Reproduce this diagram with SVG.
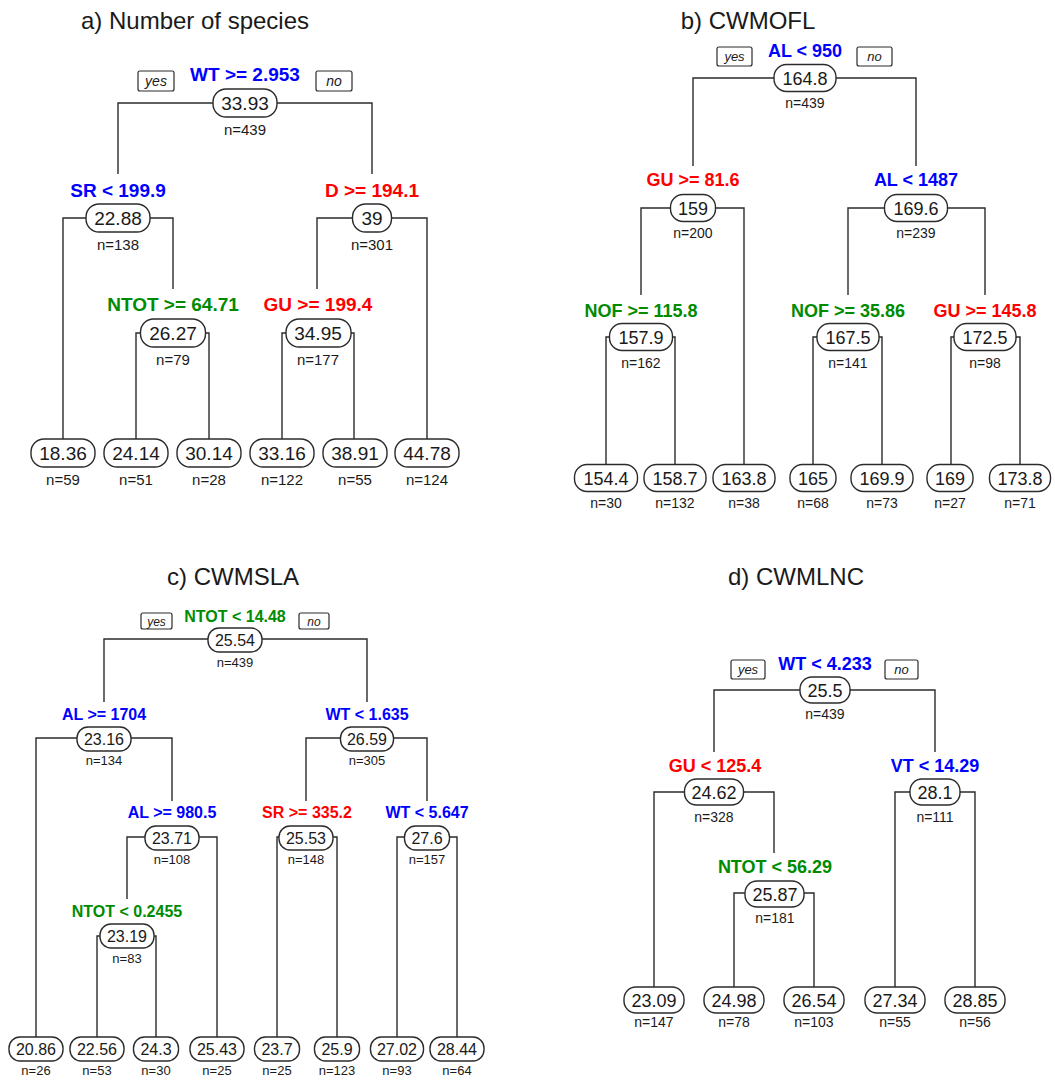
<svg xmlns="http://www.w3.org/2000/svg" width="1055" height="1080" viewBox="0 0 1055 1080">
<style>
text{font-family:"Liberation Sans",Arial,Helvetica,sans-serif;text-anchor:middle;fill:#1a1a1a}
.title{font-size:24px}
.lbl{font-weight:bold}
.blue{fill:#0000ff}.red{fill:#ff0000}.green{fill:#008b00}
.box{fill:#fff;stroke:#2b2b2b;stroke-width:1.4}
.yn{fill:#fff;stroke:#2b2b2b;stroke-width:1.2}
.ynt{font-style:italic}
.con{fill:none;stroke:#2b2b2b;stroke-width:1.4}
#pa .lbl,#pa .val{font-size:19px}#pa .n{font-size:15px}#pa .ynt{font-size:14px}
#pb .lbl,#pb .val{font-size:18px}#pb .n{font-size:14px}#pb .ynt{font-size:13px}
#pc .lbl,#pc .val{font-size:16px}#pc .n{font-size:13px}#pc .ynt{font-size:12px}
#pd .lbl,#pd .val{font-size:18px}#pd .n{font-size:14px}#pd .ynt{font-size:13px}
</style>
<rect width="1055" height="1080" fill="#fff"/>

<!-- Panel a -->
<g id="pa">
<text class="title" x="195" y="29">a) Number of species</text>
<g id="a-connectors" class="con">
<path d="M118,174V103H372V174"/>
<path d="M63,439V218H173V289"/>
<path d="M317,289V218H427V439"/>
<path d="M136,439V333H209V439"/>
<path d="M282,439V333H354V439"/>
</g>
<g id="a-root">
<rect class="yn" x="138" y="71" width="36" height="20" rx="2"/><text class="ynt" x="156" y="86">yes</text>
<rect class="yn" x="316" y="71" width="36" height="20" rx="2"/><text class="ynt" x="334" y="86">no</text>
<text class="lbl blue" x="245" y="81">WT &gt;= 2.953</text>
<rect class="box" x="213" y="89" width="64" height="28" rx="13"/><text class="val" x="245" y="110">33.93</text><text class="n" x="245" y="135">n=439</text>
</g>
<g id="a-n2"><text class="lbl blue" x="118" y="197">SR &lt; 199.9</text><rect class="box" x="86" y="204" width="64" height="28" rx="13"/><text class="val" x="118" y="225">22.88</text><text class="n" x="118" y="250">n=138</text></g>
<g id="a-n3"><text class="lbl red" x="372" y="197">D &gt;= 194.1</text><rect class="box" x="352.5" y="204" width="39" height="28" rx="13"/><text class="val" x="372" y="225">39</text><text class="n" x="372" y="250">n=301</text></g>
<g id="a-n4"><text class="lbl green" x="173" y="311">NTOT &gt;= 64.71</text><rect class="box" x="140.5" y="319" width="65" height="28" rx="13"/><text class="val" x="173" y="340">26.27</text><text class="n" x="173" y="365">n=79</text></g>
<g id="a-n5"><text class="lbl red" x="318" y="311">GU &gt;= 199.4</text><rect class="box" x="286" y="319" width="65" height="28" rx="13"/><text class="val" x="318" y="340">34.95</text><text class="n" x="318" y="365">n=177</text></g>
<g id="a-l1"><rect class="box" x="31" y="439" width="64" height="28" rx="13"/><text class="val" x="63" y="460">18.36</text><text class="n" x="63" y="485">n=59</text></g>
<g id="a-l2"><rect class="box" x="104" y="439" width="64" height="28" rx="13"/><text class="val" x="136" y="460">24.14</text><text class="n" x="136" y="485">n=51</text></g>
<g id="a-l3"><rect class="box" x="177" y="439" width="64" height="28" rx="13"/><text class="val" x="209" y="460">30.14</text><text class="n" x="209" y="485">n=28</text></g>
<g id="a-l4"><rect class="box" x="250" y="439" width="64" height="28" rx="13"/><text class="val" x="282" y="460">33.16</text><text class="n" x="282" y="485">n=122</text></g>
<g id="a-l5"><rect class="box" x="323" y="439" width="64" height="28" rx="13"/><text class="val" x="355" y="460">38.91</text><text class="n" x="355" y="485">n=55</text></g>
<g id="a-l6"><rect class="box" x="395" y="439" width="64" height="28" rx="13"/><text class="val" x="427" y="460">44.78</text><text class="n" x="427" y="485">n=124</text></g>
</g>

<!-- Panel b -->
<g id="pb">
<text class="title" x="748" y="29">b) CWMOFL</text>
<g id="b-connectors" class="con">
<path d="M693,166V78H916V166"/>
<path d="M641,295V208H744V465"/>
<path d="M848,295V208H985V295"/>
<path d="M606,465V337H675V465"/>
<path d="M813,465V337H882V465"/>
<path d="M951,465V337H1020V465"/>
</g>
<g id="b-root">
<rect class="yn" x="717" y="47" width="35" height="19" rx="2"/><text class="ynt" x="734.5" y="61">yes</text>
<rect class="yn" x="857" y="47" width="35" height="19" rx="2"/><text class="ynt" x="874.5" y="61">no</text>
<text class="lbl blue" x="805" y="57">AL &lt; 950</text>
<rect class="box" x="774" y="64.5" width="62" height="27" rx="12.5"/><text class="val" x="805" y="84.5">164.8</text><text class="n" x="805" y="108">n=439</text>
</g>
<g id="b-n2"><text class="lbl red" x="693" y="186">GU &gt;= 81.6</text><rect class="box" x="670.5" y="194.5" width="45" height="27" rx="12.5"/><text class="val" x="693" y="214.5">159</text><text class="n" x="693" y="238">n=200</text></g>
<g id="b-n3"><text class="lbl blue" x="916" y="186">AL &lt; 1487</text><rect class="box" x="884.5" y="194.5" width="63" height="27" rx="12.5"/><text class="val" x="916" y="214.5">169.6</text><text class="n" x="916" y="238">n=239</text></g>
<g id="b-n4"><text class="lbl green" x="641" y="317">NOF &gt;= 115.8</text><rect class="box" x="609.5" y="323.5" width="63" height="27" rx="12.5"/><text class="val" x="641" y="343.5">157.9</text><text class="n" x="641" y="368">n=162</text></g>
<g id="b-n5"><text class="lbl green" x="848" y="317">NOF &gt;= 35.86</text><rect class="box" x="817" y="323.5" width="62" height="27" rx="12.5"/><text class="val" x="848" y="343.5">167.5</text><text class="n" x="848" y="368">n=141</text></g>
<g id="b-n6"><text class="lbl red" x="985" y="317">GU &gt;= 145.8</text><rect class="box" x="954" y="323.5" width="62" height="27" rx="12.5"/><text class="val" x="985" y="343.5">172.5</text><text class="n" x="985" y="368">n=98</text></g>
<g id="b-l1"><rect class="box" x="574.5" y="464.5" width="63" height="27" rx="12.5"/><text class="val" x="606" y="484.5">154.4</text><text class="n" x="606" y="508">n=30</text></g>
<g id="b-l2"><rect class="box" x="644" y="464.5" width="62" height="27" rx="12.5"/><text class="val" x="675" y="484.5">158.7</text><text class="n" x="675" y="508">n=132</text></g>
<g id="b-l3"><rect class="box" x="713" y="464.5" width="62" height="27" rx="12.5"/><text class="val" x="744" y="484.5">163.8</text><text class="n" x="744" y="508">n=38</text></g>
<g id="b-l4"><rect class="box" x="790" y="464.5" width="46" height="27" rx="12.5"/><text class="val" x="813" y="484.5">165</text><text class="n" x="813" y="508">n=68</text></g>
<g id="b-l5"><rect class="box" x="851" y="464.5" width="62" height="27" rx="12.5"/><text class="val" x="882" y="484.5">169.9</text><text class="n" x="882" y="508">n=73</text></g>
<g id="b-l6"><rect class="box" x="927" y="464.5" width="46" height="27" rx="12.5"/><text class="val" x="950" y="484.5">169</text><text class="n" x="950" y="508">n=27</text></g>
<g id="b-l7"><rect class="box" x="989.5" y="464.5" width="61" height="27" rx="12.5"/><text class="val" x="1020" y="484.5">173.8</text><text class="n" x="1020" y="508">n=71</text></g>
</g>

<!-- Panel c -->
<g id="pc">
<text class="title" x="233" y="585">c) CWMSLA</text>
<g id="c-connectors" class="con">
<path d="M104,702V639H367V702"/>
<path d="M36,1037V738H172V801"/>
<path d="M306,801V738H427V801"/>
<path d="M127,899V837H217V1037"/>
<path d="M277,1037V837H337V1037"/>
<path d="M397,1037V837H457V1037"/>
<path d="M97,1037V936H156V1037"/>
</g>
<g id="c-root">
<rect class="yn" x="141" y="613" width="31" height="16" rx="2"/><text class="ynt" x="156.5" y="625.5">yes</text>
<rect class="yn" x="299" y="613" width="30" height="16" rx="2"/><text class="ynt" x="314" y="625.5">no</text>
<text class="lbl green" x="235" y="622">NTOT &lt; 14.48</text>
<rect class="box" x="208" y="628" width="54" height="24" rx="11"/><text class="val" x="235" y="645.5">25.54</text><text class="n" x="235" y="667">n=439</text>
</g>
<g id="c-n2"><text class="lbl blue" x="104" y="720">AL &gt;= 1704</text><rect class="box" x="77" y="727" width="54" height="24" rx="11"/><text class="val" x="104" y="744.5">23.16</text><text class="n" x="104" y="765">n=134</text></g>
<g id="c-n3"><text class="lbl blue" x="367" y="720">WT &lt; 1.635</text><rect class="box" x="340.5" y="727" width="53" height="24" rx="11"/><text class="val" x="367" y="744.5">26.59</text><text class="n" x="367" y="765">n=305</text></g>
<g id="c-n4"><text class="lbl blue" x="172" y="818">AL &gt;= 980.5</text><rect class="box" x="145" y="826" width="54" height="24" rx="11"/><text class="val" x="172" y="843.5">23.71</text><text class="n" x="172" y="864">n=108</text></g>
<g id="c-n5"><text class="lbl red" x="307" y="818">SR &gt;= 335.2</text><rect class="box" x="279" y="826" width="54" height="24" rx="11"/><text class="val" x="306" y="843.5">25.53</text><text class="n" x="306" y="864">n=148</text></g>
<g id="c-n6"><text class="lbl blue" x="427" y="818">WT &lt; 5.647</text><rect class="box" x="404.5" y="826" width="45" height="24" rx="11"/><text class="val" x="427" y="843.5">27.6</text><text class="n" x="427" y="864">n=157</text></g>
<g id="c-n7"><text class="lbl green" x="127" y="917">NTOT &lt; 0.2455</text><rect class="box" x="100" y="924" width="54" height="24" rx="11"/><text class="val" x="127" y="941.5">23.19</text><text class="n" x="127" y="963">n=83</text></g>
<g id="c-l1"><rect class="box" x="9" y="1037" width="54" height="24" rx="11"/><text class="val" x="36" y="1054.5">20.86</text><text class="n" x="36" y="1075">n=26</text></g>
<g id="c-l2"><rect class="box" x="70" y="1037" width="54" height="24" rx="11"/><text class="val" x="97" y="1054.5">22.56</text><text class="n" x="97" y="1075">n=53</text></g>
<g id="c-l3"><rect class="box" x="133.5" y="1037" width="45" height="24" rx="11"/><text class="val" x="156" y="1054.5">24.3</text><text class="n" x="156" y="1075">n=30</text></g>
<g id="c-l4"><rect class="box" x="190" y="1037" width="54" height="24" rx="11"/><text class="val" x="217" y="1054.5">25.43</text><text class="n" x="217" y="1075">n=25</text></g>
<g id="c-l5"><rect class="box" x="254.5" y="1037" width="45" height="24" rx="11"/><text class="val" x="277" y="1054.5">23.7</text><text class="n" x="277" y="1075">n=25</text></g>
<g id="c-l6"><rect class="box" x="314.5" y="1037" width="45" height="24" rx="11"/><text class="val" x="337" y="1054.5">25.9</text><text class="n" x="337" y="1075">n=123</text></g>
<g id="c-l7"><rect class="box" x="370.5" y="1037" width="53" height="24" rx="11"/><text class="val" x="397" y="1054.5">27.02</text><text class="n" x="397" y="1075">n=93</text></g>
<g id="c-l8"><rect class="box" x="430" y="1037" width="54" height="24" rx="11"/><text class="val" x="457" y="1054.5">28.44</text><text class="n" x="457" y="1075">n=64</text></g>
</g>

<!-- Panel d -->
<g id="pd">
<text class="title" x="796" y="585">d) CWMLNC</text>
<g id="d-connectors" class="con">
<path d="M714,752V690H935V752"/>
<path d="M654,987V792H774V853"/>
<path d="M895,987V792H975V987"/>
<path d="M734,987V893H814V987"/>
</g>
<g id="d-root">
<rect class="yn" x="731" y="660" width="34" height="19" rx="2"/><text class="ynt" x="748" y="674">yes</text>
<rect class="yn" x="885" y="660" width="33" height="19" rx="2"/><text class="ynt" x="901.5" y="674">no</text>
<text class="lbl blue" x="825" y="670">WT &lt; 4.233</text>
<rect class="box" x="800" y="677" width="50" height="26" rx="12"/><text class="val" x="825" y="696.5">25.5</text><text class="n" x="825" y="719">n=439</text>
</g>
<g id="d-n2"><text class="lbl red" x="715" y="772">GU &lt; 125.4</text><rect class="box" x="684.5" y="779" width="59" height="26" rx="12"/><text class="val" x="714" y="798.5">24.62</text><text class="n" x="714" y="822">n=328</text></g>
<g id="d-n3"><text class="lbl blue" x="935" y="772">VT &lt; 14.29</text><rect class="box" x="910" y="779" width="50" height="26" rx="12"/><text class="val" x="935" y="798.5">28.1</text><text class="n" x="935" y="822">n=111</text></g>
<g id="d-n4"><text class="lbl green" x="775" y="873">NTOT &lt; 56.29</text><rect class="box" x="745" y="881" width="59" height="26" rx="12"/><text class="val" x="775" y="900.5">25.87</text><text class="n" x="775" y="923">n=181</text></g>
<g id="d-l1"><rect class="box" x="624" y="987" width="60" height="26" rx="12"/><text class="val" x="654" y="1006.5">23.09</text><text class="n" x="654" y="1027">n=147</text></g>
<g id="d-l2"><rect class="box" x="704" y="987" width="60" height="26" rx="12"/><text class="val" x="734" y="1006.5">24.98</text><text class="n" x="734" y="1027">n=78</text></g>
<g id="d-l3"><rect class="box" x="784" y="987" width="60" height="26" rx="12"/><text class="val" x="814" y="1006.5">26.54</text><text class="n" x="814" y="1027">n=103</text></g>
<g id="d-l4"><rect class="box" x="865" y="987" width="60" height="26" rx="12"/><text class="val" x="895" y="1006.5">27.34</text><text class="n" x="895" y="1027">n=55</text></g>
<g id="d-l5"><rect class="box" x="945" y="987" width="60" height="26" rx="12"/><text class="val" x="975" y="1006.5">28.85</text><text class="n" x="975" y="1027">n=56</text></g>
</g>
</svg>
